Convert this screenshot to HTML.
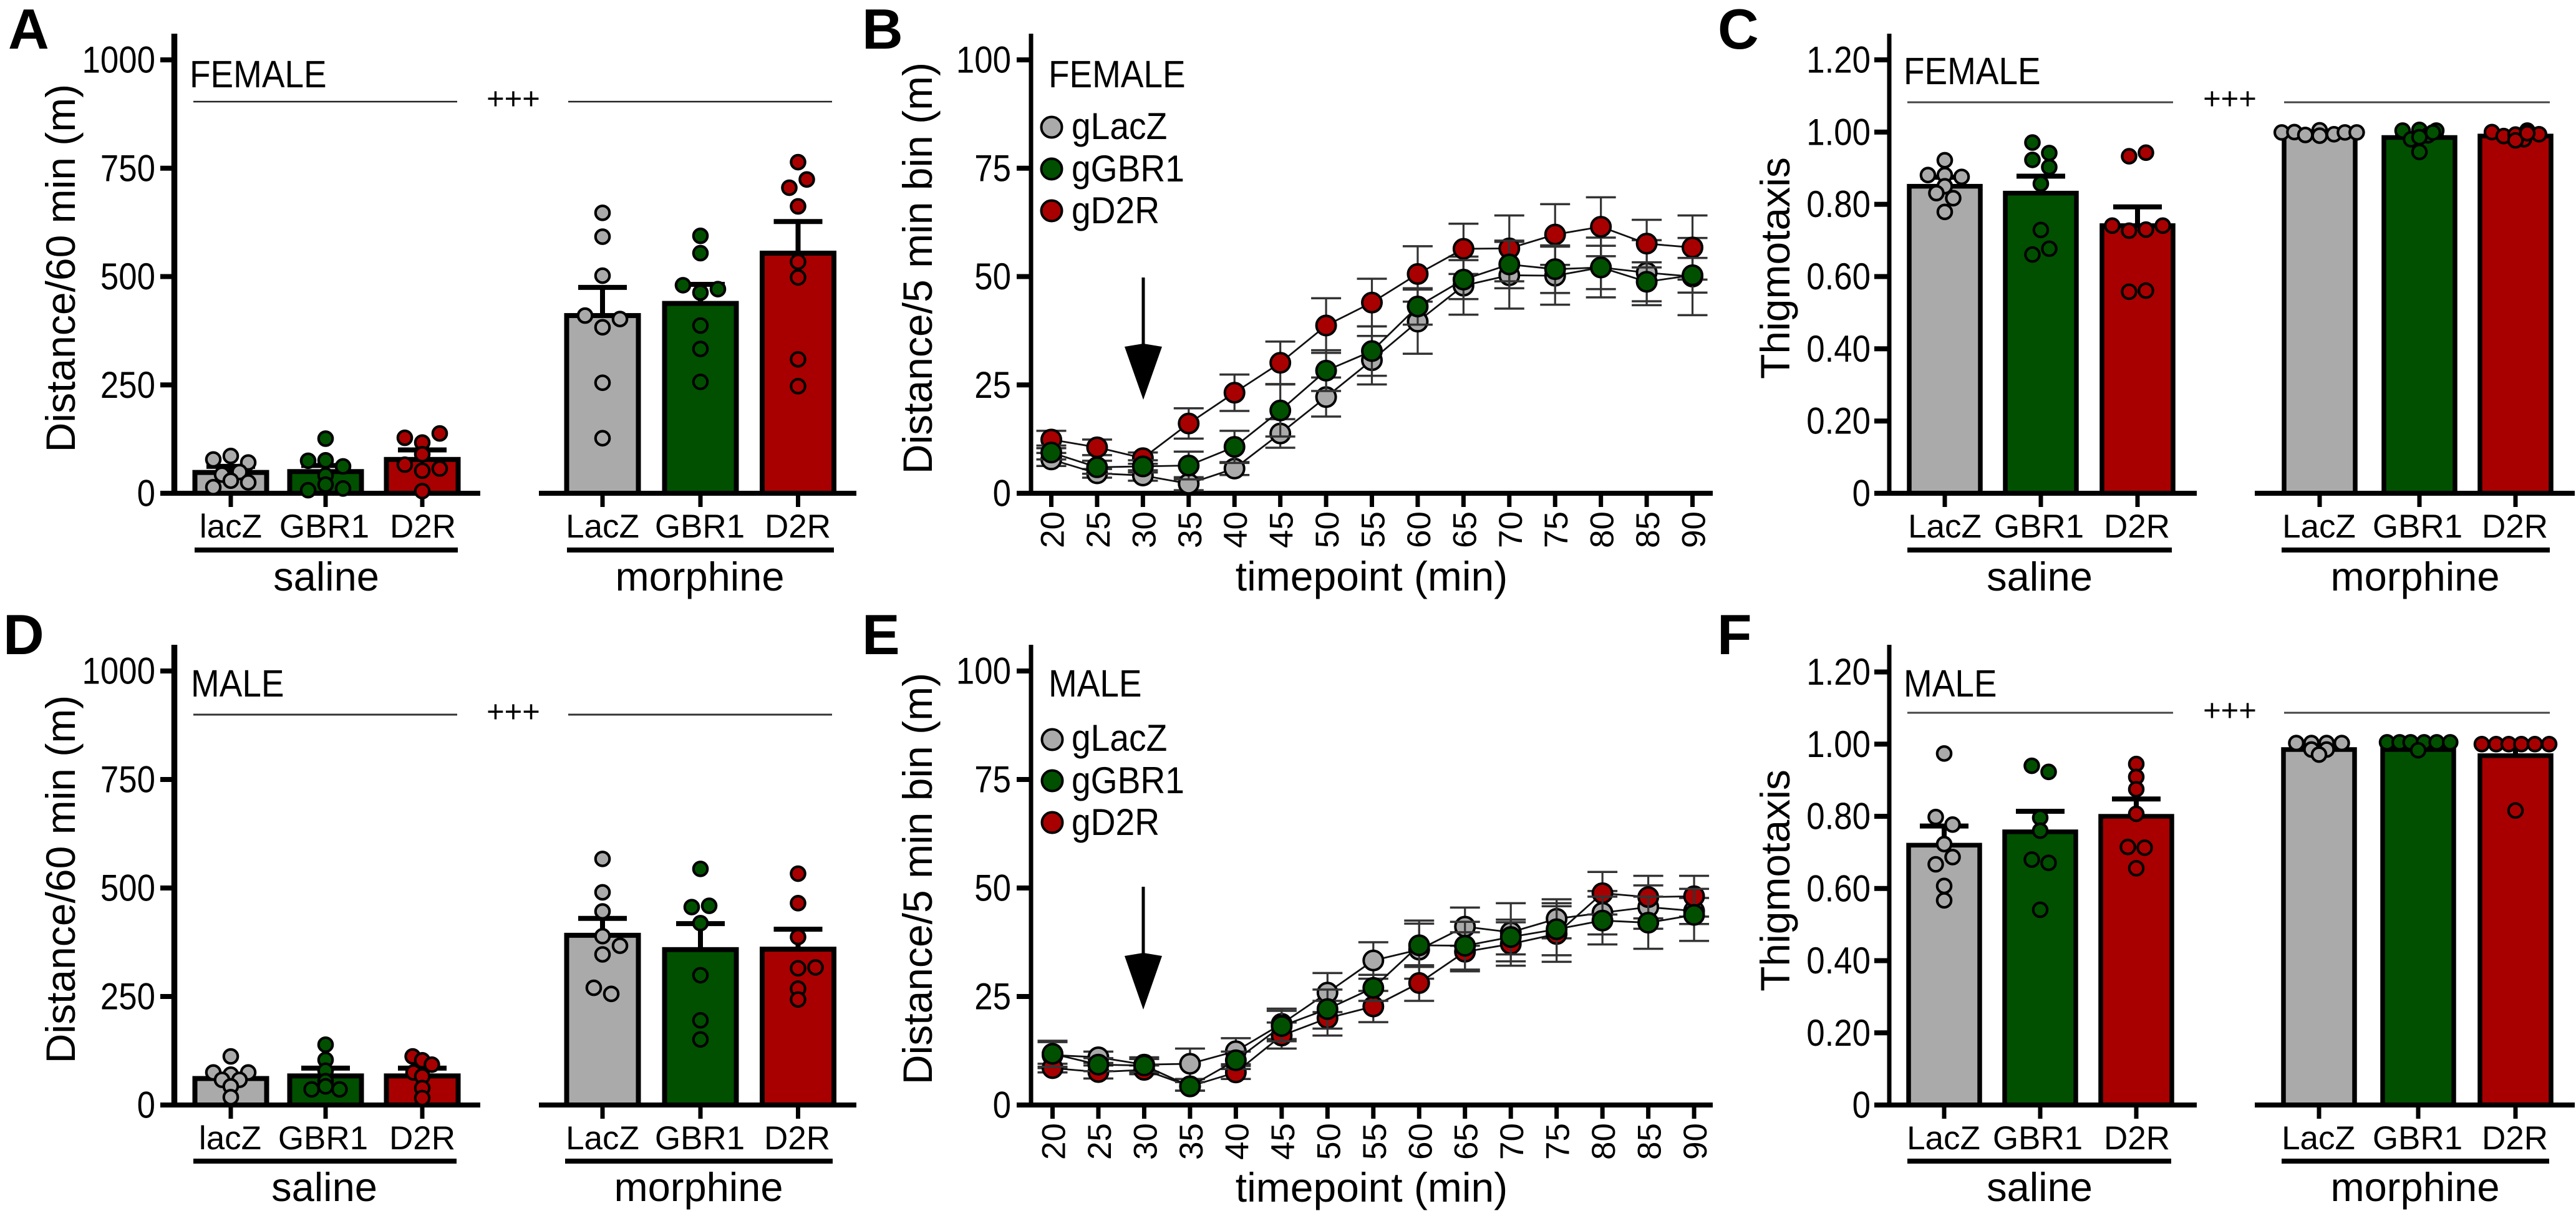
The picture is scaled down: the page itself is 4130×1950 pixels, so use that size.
<!DOCTYPE html>
<html lang="en">
<head>
<meta charset="utf-8">
<title>Distance and thigmotaxis panels</title>
<style>
  html, body { margin: 0; padding: 0; background: #fff; }
  svg { display: block; }
  text { font-family: "Liberation Sans", Arial, sans-serif; fill: #000; }
  .letter { font-size: 91px; font-weight: bold; }
  .title { font-size: 66px; }
  .sex { font-size: 61px; }
  .group { font-size: 65px; text-anchor: middle; }
  .plus { font-size: 49px; text-anchor: middle; }
  .leg { font-size: 60px; }
</style>
</head>
<body>
<svg id="figure" xmlns="http://www.w3.org/2000/svg" width="4130" height="1950" viewBox="0 0 4130 1950">
  <rect x="0" y="0" width="4130" height="1950" fill="#fff"/>

  <text class="letter" x="13" y="78">A</text>
  <text class="letter" x="1382" y="78">B</text>
  <text class="letter" x="2754" y="78">C</text>
  <text class="letter" x="5" y="1049">D</text>
  <text class="letter" x="1382" y="1049">E</text>
  <text class="letter" x="2753" y="1049">F</text>

  <text class="title" text-anchor="middle" transform="translate(120 430) rotate(-90)">Distance/60 min (m)</text>
  <text class="title" text-anchor="middle" transform="translate(120 1410) rotate(-90)">Distance/60 min (m)</text>
  <text class="title" text-anchor="middle" transform="translate(1494 430) rotate(-90)">Distance/5 min bin (m)</text>
  <text class="title" text-anchor="middle" transform="translate(1494 1409) rotate(-90)">Distance/5 min bin (m)</text>
  <text class="title" text-anchor="middle" transform="translate(2869 430) rotate(-90)">Thigmotaxis</text>
  <text class="title" text-anchor="middle" transform="translate(2869 1412) rotate(-90)">Thigmotaxis</text>

  <text class="sex" transform="translate(304 140) scale(0.9 1)">FEMALE</text>
  <text class="sex" transform="translate(1681 140) scale(0.9 1)">FEMALE</text>
  <text class="sex" transform="translate(3052 135) scale(0.9 1)">FEMALE</text>
  <text class="sex" transform="translate(306 1117) scale(0.9 1)">MALE</text>
  <text class="sex" transform="translate(1681 1117) scale(0.9 1)">MALE</text>
  <text class="sex" transform="translate(3052 1117) scale(0.9 1)">MALE</text>

  <g stroke="#222" stroke-width="2.5">
    <line x1="310" x2="733" y1="163" y2="163"/>
    <line x1="911" x2="1334" y1="163" y2="163"/>
    <text class="plus" stroke="none" x="823" y="175">+++</text>
  </g>
  <g stroke="#333" stroke-width="3">
    <line x1="310" x2="733" y1="1146" y2="1146"/>
    <line x1="911" x2="1334" y1="1146" y2="1146"/>
    <text class="plus" stroke="none" x="823" y="1158">+++</text>
  </g>
  <g stroke="#444" stroke-width="3">
    <line x1="3058" x2="3484" y1="164" y2="164"/>
    <line x1="3662" x2="4088" y1="164" y2="164"/>
    <text class="plus" stroke="none" x="3575" y="175">+++</text>
  </g>
  <g stroke="#444" stroke-width="3">
    <line x1="3058" x2="3484" y1="1143" y2="1143"/>
    <line x1="3662" x2="4088" y1="1143" y2="1143"/>
    <text class="plus" stroke="none" x="3575" y="1156">+++</text>
  </g>

  <g>
    <rect x="312" y="878" width="422" height="8" fill="#000"/>
    <rect x="909" y="878" width="428" height="8" fill="#000"/>
    <text class="group" x="523" y="947">saline</text>
    <text class="group" x="1122" y="947">morphine</text>
  </g>
  <g>
    <rect x="310" y="1858" width="422" height="8" fill="#000"/>
    <rect x="906" y="1858" width="429" height="8" fill="#000"/>
    <text class="group" x="520" y="1926">saline</text>
    <text class="group" x="1120" y="1926">morphine</text>
  </g>
  <g>
    <rect x="3058" y="878" width="424" height="8" fill="#000"/>
    <rect x="3658" y="878" width="430" height="8" fill="#000"/>
    <text class="group" x="3270" y="947">saline</text>
    <text class="group" x="3872" y="947">morphine</text>
  </g>
  <g>
    <rect x="3058" y="1858" width="423" height="8" fill="#000"/>
    <rect x="3658" y="1858" width="429" height="8" fill="#000"/>
    <text class="group" x="3270" y="1926">saline</text>
    <text class="group" x="3872" y="1926">morphine</text>
  </g>

  <text class="title" text-anchor="middle" x="2199" y="947">timepoint (min)</text>
  <text class="title" text-anchor="middle" x="2199" y="1927">timepoint (min)</text>

  <g id="charts"></g>

  <g>
    <circle cx="1686" cy="204" r="16.5" fill="#AAAAAA" stroke="#000" stroke-width="4"/>
    <text class="leg" transform="translate(1718 223) scale(0.92 1)">gLacZ</text>
    <circle cx="1686" cy="271" r="16.5" fill="#005000" stroke="#000" stroke-width="4"/>
    <text class="leg" transform="translate(1718 291) scale(0.92 1)">gGBR1</text>
    <circle cx="1686" cy="338" r="16.5" fill="#A80000" stroke="#000" stroke-width="4"/>
    <text class="leg" transform="translate(1718 358) scale(0.92 1)">gD2R</text>
  </g>
  <g>
    <circle cx="1687" cy="1186" r="16.5" fill="#AAAAAA" stroke="#000" stroke-width="4"/>
    <text class="leg" transform="translate(1718 1204) scale(0.92 1)">gLacZ</text>
    <circle cx="1687" cy="1252" r="16.5" fill="#005000" stroke="#000" stroke-width="4"/>
    <text class="leg" transform="translate(1718 1272) scale(0.92 1)">gGBR1</text>
    <circle cx="1687" cy="1319" r="16.5" fill="#A80000" stroke="#000" stroke-width="4"/>
    <text class="leg" transform="translate(1718 1339) scale(0.92 1)">gD2R</text>
  </g>

  <g>
    <line x1="1833" x2="1833" y1="445" y2="560" stroke="#000" stroke-width="5"/>
    <polygon points="1803,556 1833,551 1863,556 1833,641" fill="#000"/>
  </g>
  <g>
    <line x1="1833" x2="1833" y1="1422" y2="1538" stroke="#000" stroke-width="5"/>
    <polygon points="1803,1533 1833,1528 1863,1533 1833,1619" fill="#000"/>
  </g>
</svg>

<script>
/* ---------- shared data ---------- */
const distanceTicks = [0, 250, 500, 750, 1000];
const thigmoTicks = [0, 0.2, 0.4, 0.6, 0.8, 1.0, 1.2];
const thigmoTickLabels = ['0', '0.20', '0.40', '0.60', '0.80', '1.00', '1.20'];
const timeTicks = [0, 25, 50, 75, 100];
const timepoints = [20, 25, 30, 35, 40, 45, 50, 55, 60, 65, 70, 75, 80, 85, 90];
const categoriesLower = ['lacZ', 'GBR1', 'D2R', 'LacZ', 'GBR1', 'D2R'];
const categoriesUpper = ['LacZ', 'GBR1', 'D2R', 'LacZ', 'GBR1', 'D2R'];

/* ---------- panel A ---------- */
const panelAMeans = [48, 50, 78, 410, 438, 554];
const panelASems = [14, 14, 22, 65, 44, 73];
const panelAPoints = [
  [78, 86, 71, 43, 49, 29, 14, 25],
  [126, 75, 76, 62, 41, 20, 7, 11],
  [128, 138, 117, 90, 66, 57, 52, 5],
  [647, 592, 502, 410, 402, 383, 255, 127],
  [594, 554, 480, 471, 463, 387, 333, 257],
  [764, 724, 705, 662, 534, 498, 309, 247]
];
const panelASlots = [
  [-2, 0, 2, -1, 1, 0, -2, 2],
  [0, -2, 0, 2, 0, 0, -2, 2],
  [-2, 2, 0, 0, -2, 2, 0, 0],
  [0, 0, 0, -2, 2, 0, 0, 0],
  [0, 0, -2, 2, 0, 0, 0, 0],
  [0, 1, -1, 0, 0, 0, 0, 0]
];

/* ---------- panel D ---------- */
const panelDMeans = [61, 67, 67, 391, 358, 359];
const panelDSems = [10, 18, 18, 39, 60, 46];
const panelDPoints = [
  [112, 75, 75, 70, 58, 58, 43, 18],
  [139, 104, 79, 55, 36, 36, 43],
  [112, 103, 93, 75, 66, 39, 16],
  [567, 490, 446, 389, 367, 347, 270, 256],
  [544, 456, 459, 419, 299, 195, 151],
  [533, 465, 387, 315, 317, 268, 243]
];
const panelDSlots = [
  [0, -2, 2, 0, -1, 1, 0, 0],
  [0, 0, 0, 0, -1.6, 1.6, 0],
  [-1.1, 0, 1.1, -1, 0, 0, 0],
  [0, 0, 0, 0, 2, 0, -1, 1],
  [0, -1, 1, 0, 0, 0, 0],
  [0, 0, 0, 0, 2, 0, 0]
];

/* ---------- panel C ---------- */
const panelCMeans = [0.85, 0.831, 0.741, 0.995, 0.985, 0.989];
const panelCSems = [0.025, 0.047, 0.052, 0.002, 0.008, 0.004];
const panelCPoints = [
  [0.922, 0.881, 0.876, 0.881, 0.85, 0.831, 0.817, 0.779],
  [0.971, 0.942, 0.923, 0.903, 0.857, 0.729, 0.677, 0.661],
  [0.943, 0.933, 0.741, 0.741, 0.727, 0.73, 0.558, 0.561],
  [0.999, 1.0, 0.992, 1.005, 0.994, 0.999, 0.999, 0.99],
  [1.004, 1.006, 1.004, 0.98, 0.991, 0.986, 0.999, 0.945],
  [1.0, 0.989, 0.993, 1.004, 0.994, 0.98, 0.977, 0.997]
];
const panelCSlots = [
  [0, -2, 2, 0, 0, -1, 1, 0],
  [-1, 1, -1, 1, 0, 0, 1, -1],
  [1, -1, -3, 3, -1, 1, -1, 1],
  [-4.5, -3, -1.7, 0, 1.7, 3, 4.4, 0],
  [-2, 0, 2, -1, 1, 0, 1.6, 0],
  [-2.8, -1.4, 0, 1.4, 2.8, 1, 0, 1.4]
];

/* ---------- panel F ---------- */
const panelFMeans = [0.72, 0.757, 0.8, 0.985, 0.985, 0.968];
const panelFSems = [0.053, 0.057, 0.048, 0.004, 0.003, 0.03];
const panelFPoints = [
  [0.974, 0.798, 0.777, 0.723, 0.667, 0.687, 0.607, 0.567],
  [0.94, 0.923, 0.796, 0.76, 0.68, 0.671, 0.541],
  [0.945, 0.909, 0.875, 0.807, 0.715, 0.713, 0.656],
  [1.003, 1.003, 1.003, 1.003, 0.985, 0.985, 0.971],
  [1.005, 1.005, 1.005, 1.005, 1.005, 1.005, 0.983],
  [1.0, 1.0, 1.0, 1.0, 1.0, 1.0, 0.816]
];
const panelFSlots = [
  [0, -1, 1, 0, -1, 1, 0, 0],
  [-1, 1, 0, 0, -1, 1, 0],
  [0, 0, 0, 0, -1, 1, 0],
  [-2.7, -0.9, 0.9, 2.7, -0.9, 0.9, 0],
  [-3.7, -2.2, -0.9, 0.7, 2.2, 3.8, 0],
  [-4, -2.3, -0.8, 0.7, 2.3, 4, 0]
];

/* ---------- panel B ---------- */
const panelBLacZ = [7.8, 4.6, 4.1, 2.2, 5.7, 13.8, 22.2, 30.7, 39.6, 47.9, 50.3, 50.2, 52.1, 50.9, 50];
const panelBLacZSem = [1.5, 1, 1.2, 1.5, 1.5, 3.3, 4.5, 5.6, 7.4, 6.7, 7.7, 6.7, 6.9, 7.5, 8.9];
const panelBD2R = [12.4, 10.6, 8.1, 16.1, 23.2, 30.1, 38.7, 44, 50.6, 56.4, 56.5, 59.7, 61.5, 57.6, 56.7];
const panelBD2RSem = [2, 1.8, 1.3, 3.5, 4.2, 4.9, 6.3, 5.5, 6.4, 5.8, 7.6, 7, 6.8, 5.5, 7.4];
const panelBGBR1 = [9.4, 6, 6.2, 6.4, 10.7, 19.1, 28.3, 32.8, 43.1, 49.3, 52.8, 51.7, 52.1, 48.8, 50.3];
const panelBGBR1Sem = [1.6, 1.5, 1.4, 3.2, 3.7, 6, 4.7, 5.7, 4.2, 4.5, 5.5, 5.5, 5, 4.5, 4];

/* ---------- panel E ---------- */
const panelELacZ = [11.5, 11, 9.3, 9.5, 12.4, 18.7, 25.9, 33.3, 35.8, 41.1, 39.8, 42.9, 44.3, 45.6, 44.7];
const panelELacZSem = [3, 1.3, 1.7, 3.5, 3, 3.5, 4.5, 4.2, 6.7, 4.4, 6.7, 4.5, 5, 5, 3];
const panelED2R = [8.5, 7.6, 8.1, 4.3, 7.5, 16, 20, 22.7, 28.1, 35.3, 37.1, 39.4, 48.8, 47.9, 48.1];
const panelED2RSem = [1, 1.5, 1, 1, 1.5, 3, 4, 3.6, 4.1, 4.5, 5, 6.4, 4.9, 4.9, 4.7];
const panelEGBR1 = [11.8, 9.3, 9.1, 4.3, 10.3, 18.2, 22.1, 27, 36.8, 36.7, 38.7, 40.5, 42.5, 42, 43.8];
const panelEGBR1Sem = [3, 1.5, 1.5, 1, 2, 3.5, 4.5, 3, 5, 5.5, 4, 6, 5.5, 6, 6];

/* ---------- drawing helpers ---------- */
const SVGNS = 'http://www.w3.org/2000/svg';
const root = document.getElementById('charts');
const colors = ['#AAAAAA', '#005000', '#A80000', '#AAAAAA', '#005000', '#A80000'];

function mk(parent, tag, props) {
  const el = document.createElementNS(SVGNS, tag);
  for (const k in props) el.setAttribute(k, props[k]);
  parent.appendChild(el);
  return el;
}
function group(name) {
  const g = mk(root, 'g', {});
  
  
  return g;
}

function drawYAxis(g, cfg, ticks, labels, yScale) {
  const axis = mk(g, 'rect', { x: cfg.axisX - cfg.axisW / 2, y: cfg.top, width: cfg.axisW, height: cfg.y0 - cfg.top + 4, fill: '#000' });
  
  
  ticks.forEach((t, i) => {
    const tick = mk(g, 'rect', { x: cfg.tickStart, y: yScale(t) - 4, width: cfg.axisX - cfg.tickStart, height: 8, fill: '#000' });
    
    
    const label = mk(g, 'text', { 'text-anchor': 'end', 'font-size': 60, transform: 'translate(' + cfg.labelRight + ' ' + (yScale(t) + 20.5) + ') scale(0.88 1)' });
    label.textContent = labels[i];
    
    
  });
}

function drawBarPanel(name, cfg, ticks, tickLabels, categories, means, sems, points, slots) {
  const g = group(name);
  const yScale = v => cfg.y0 - v * cfg.unit;
  const xScale = i => cfg.centers[i];

  means.forEach((m, i) => {
    const cx = xScale(i);
    const bar = mk(g, 'rect', { x: cx - cfg.barW / 2, y: yScale(m), width: cfg.barW, height: cfg.y0 - yScale(m), fill: colors[i], stroke: '#000', 'stroke-width': cfg.barStroke });
    
    
    const stem = mk(g, 'line', { x1: cx, x2: cx, y1: yScale(m), y2: yScale(m + sems[i]), stroke: '#000', 'stroke-width': 8 });
    
    
    const cap = mk(g, 'line', { x1: cx - 39, x2: cx + 39, y1: yScale(m + sems[i]), y2: yScale(m + sems[i]), stroke: '#000', 'stroke-width': 8 });
    
    
  });

  /* bottom axis segments */
  cfg.segments.forEach(seg => {
    const s = mk(g, 'rect', { x: seg[0], y: cfg.y0 - 4, width: seg[1] - seg[0], height: 8, fill: '#000' });
    
    
  });

  drawYAxis(g, cfg, ticks, tickLabels, yScale);

  categories.forEach((c, i) => {
    const cx = xScale(i);
    const tick = mk(g, 'rect', { x: cx - 3.5, y: cfg.y0, width: 7, height: 22, fill: '#000' });
    
    
    const label = mk(g, 'text', { x: cfg.labelCenters[i], y: cfg.y0 + 71, 'text-anchor': 'middle', 'font-size': 53 });
    label.textContent = c;
    
    
  });

  points.forEach((vals, i) => {
    vals.forEach((v, j) => {
      const dot = mk(g, 'circle', { cx: xScale(i) + slots[i][j] * cfg.slotW, cy: yScale(v), r: 11.2, fill: colors[i], stroke: '#000', 'stroke-width': 4.2 });
      
      
    });
  });
}

function drawLinePanel(name, cfg, seriesList) {
  const g = group(name);
  const yScale = v => cfg.y0 - v * cfg.unit;
  const xScale = i => cfg.x0 + i * cfg.step;

  const base = mk(g, 'rect', { x: cfg.tickStart, y: cfg.y0 - 4, width: cfg.xEnd - cfg.tickStart, height: 8, fill: '#000' });
  
  
  drawYAxis(g, cfg, timeTicks, timeTicks.map(String), yScale);

  timepoints.forEach((t, i) => {
    const tick = mk(g, 'rect', { x: xScale(i) - 3.5, y: cfg.y0, width: 7, height: 22, fill: '#000' });
    
    
    const px = xScale(i) + 20, py = cfg.y0 + 29;
    const label = mk(g, 'text', { x: px, y: py, 'text-anchor': 'end', 'font-size': 53, transform: 'rotate(-90 ' + px + ' ' + py + ')' });
    label.textContent = t;
    
    
  });

  seriesList.forEach(series => {
    const sg = mk(g, 'g', {});
    
    
    series.values.forEach((v, i) => {
      const up = yScale(v + series.sems[i]), down = yScale(v - series.sems[i]), x = xScale(i);
      const stem = mk(sg, 'line', { x1: x, x2: x, y1: up, y2: down, stroke: '#333', 'stroke-width': 3.2 });
      
      
      [up, down].forEach(cy => {
        const cap = mk(sg, 'line', { x1: x - 24, x2: x + 24, y1: cy, y2: cy, stroke: '#333', 'stroke-width': 3.5 });
        
        
      });
    });
    const d = series.values.map((v, i) => (i ? 'L' : 'M') + xScale(i) + ' ' + yScale(v)).join(' ');
    const path = mk(sg, 'path', { d: d, fill: 'none', stroke: '#111', 'stroke-width': 2.8 });
    
    
    series.values.forEach((v, i) => {
      const dot = mk(sg, 'circle', { cx: xScale(i), cy: yScale(v), r: 15.5, fill: series.color, stroke: '#000', 'stroke-width': 4 });
      
      
    });
  });
}

/* ---------- layout ---------- */
const layoutA = { y0: 791, top: 54, unit: 0.695, axisX: 279.5, axisW: 9.5, tickStart: 257, labelRight: 249, barW: 115, barStroke: 8, slotW: 14,
  centers: [370, 522, 677, 966, 1123, 1279.5], labelCenters: [370, 520, 678, 966, 1122, 1279], segments: [[257, 770], [864, 1373]] };
const layoutD = Object.assign({}, layoutA, { y0: 1772, top: 1034, unit: 0.696, labelCenters: [369, 518, 677, 966, 1122, 1278] });
const layoutC = { y0: 791, top: 54, unit: 579.2, axisX: 3029, axisW: 7, tickStart: 3005, labelRight: 2999, barW: 114, barStroke: 7.5, slotW: 13.5,
  centers: [3118, 3272, 3427, 3719, 3879, 4033], labelCenters: [3118, 3269, 3426, 3718, 3876, 4032], segments: [[3005, 3522], [3615, 4128]] };
const layoutF = Object.assign({}, layoutC, { y0: 1772, top: 1034, unit: 578.7, centers: [3117, 3271, 3425, 3718, 3877, 4033], labelCenters: [3116, 3267, 3426, 3717, 3876, 4032] });
const layoutB = { y0: 791, top: 54, unit: 6.95, axisX: 1653, axisW: 7, tickStart: 1630, labelRight: 1621, x0: 1685.5, step: 73.43, xEnd: 2746 };
const layoutE = { y0: 1772, top: 1034, unit: 6.96, axisX: 1653, axisW: 7, tickStart: 1630, labelRight: 1621, x0: 1687.5, step: 73.47, xEnd: 2746 };

drawBarPanel('panel-a-chart', layoutA, distanceTicks, distanceTicks.map(String), categoriesLower, panelAMeans, panelASems, panelAPoints, panelASlots);
drawBarPanel('panel-d-chart', layoutD, distanceTicks, distanceTicks.map(String), categoriesLower, panelDMeans, panelDSems, panelDPoints, panelDSlots);
drawBarPanel('panel-c-chart', layoutC, thigmoTicks, thigmoTickLabels, categoriesUpper, panelCMeans, panelCSems, panelCPoints, panelCSlots);
drawBarPanel('panel-f-chart', layoutF, thigmoTicks, thigmoTickLabels, categoriesUpper, panelFMeans, panelFSems, panelFPoints, panelFSlots);

drawLinePanel('panel-b-chart', layoutB, [
  { key: 'glacz', color: '#AAAAAA', values: panelBLacZ, sems: panelBLacZSem },
  { key: 'gd2r', color: '#A80000', values: panelBD2R, sems: panelBD2RSem },
  { key: 'ggbr1', color: '#005000', values: panelBGBR1, sems: panelBGBR1Sem }
]);
drawLinePanel('panel-e-chart', layoutE, [
  { key: 'glacz', color: '#AAAAAA', values: panelELacZ, sems: panelELacZSem },
  { key: 'gd2r', color: '#A80000', values: panelED2R, sems: panelED2RSem },
  { key: 'ggbr1', color: '#005000', values: panelEGBR1, sems: panelEGBR1Sem }
]);
</script>
</body>
</html>
